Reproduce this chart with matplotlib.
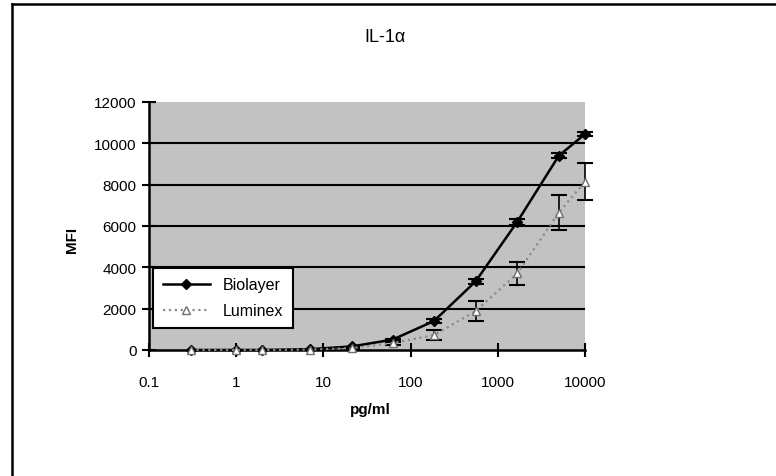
import matplotlib
matplotlib.use("Agg")
import matplotlib.pyplot as plt
from matplotlib.lines import Line2D

plt.rcParams['font.family'] = ['Liberation Sans', 'DejaVu Sans']

# Concentrations (pg/ml)
conc = [0.3, 1, 2, 7, 21, 62, 185, 556, 1667, 5000, 10000]

# Mean fluorescence intensity
biolayer = [0, 0, 0, 40, 170, 500, 1400, 3320, 6200, 9400, 10450]
biolayer_err = [0, 0, 0, 0, 0, 40, 80, 120, 150, 120, 100]

luminex = [0, 0, 0, 20, 90, 330, 720, 1880, 3700, 6650, 8150]
luminex_err = [0, 0, 0, 0, 30, 80, 250, 480, 580, 850, 900]

yticks = [0, 2000, 4000, 6000, 8000, 10000, 12000]
xticks = [0.1, 1, 10, 100, 1000, 10000]
xticklabels = ["0.1", "1", "10", "100", "1000", "10000"]


def with_error(x, y, e):
    keep = [i for i, v in enumerate(e) if v > 0]
    return [x[i] for i in keep], [y[i] for i in keep], [e[i] for i in keep]


fig = plt.figure(figsize=(7.76, 4.77), dpi=100)
ax = fig.add_axes([0.192, 0.2642, 0.562, 0.520])

ax.set_facecolor('#c2c2c2')
ax.set_xscale('log')
ax.set_xlim(0.1, 10000)
ax.set_ylim(0, 12000)

for y in yticks[1:-1]:
    ax.axhline(y, color='black', lw=1.5, zorder=1)

bx, by, be = with_error(conc, biolayer, biolayer_err)
ax.errorbar(bx, by, yerr=be, fmt='none', ecolor='black',
            elinewidth=1.2, capsize=6, capthick=1.5, zorder=3, clip_on=False)
ax.plot(conc, biolayer, color='black', lw=1.8, marker='D', ms=5,
        mfc='black', mec='black', zorder=4, label='Biolayer', clip_on=False)

lx, ly, le = with_error(conc, luminex, luminex_err)
ax.errorbar(lx, ly, yerr=le, fmt='none', ecolor='black',
            elinewidth=1.2, capsize=6, capthick=1.5, zorder=5, clip_on=False)
ax.plot(conc, luminex, color='#8a8a8a', lw=1.6, ls=':', marker='^', ms=6,
        mfc='white', mec='#707070', mew=1.0, zorder=6, label='Luminex',
        clip_on=False)

ax.set_xticks(xticks)
ax.set_xticklabels(xticklabels)
ax.xaxis.set_minor_locator(matplotlib.ticker.NullLocator())
ax.set_yticks(yticks)
ax.set_yticklabels([str(v) for v in yticks])
ax.tick_params(axis='x', direction='inout', length=10, width=1.5, pad=13,
               labelsize=11)
ax.tick_params(axis='y', direction='inout', length=10, width=1.5, pad=4,
               labelsize=11)

for side in ['top', 'right']:
    ax.spines[side].set_visible(False)
ax.spines['left'].set_linewidth(1.8)
ax.spines['bottom'].set_linewidth(1.8)

handles, labels = ax.get_legend_handles_labels()
order = [labels.index('Biolayer'), labels.index('Luminex')]
leg = ax.legend([handles[i] for i in order], [labels[i] for i in order],
                loc='lower left', bbox_to_anchor=(0.009, 0.089),
                fontsize=11.5, frameon=True, fancybox=False, framealpha=1,
                edgecolor='black', handlelength=3, borderpad=0.6,
                labelspacing=0.7, borderaxespad=0)
leg.get_frame().set_linewidth(1.5)
leg.set_zorder(10)

fig.text(385 / 776, 1 - 38 / 477, 'IL-1α', ha='center', va='center',
         fontsize=13)
fig.text(72 / 776, 1 - 240 / 477, 'MFI', ha='center', va='center',
         rotation=90, fontsize=11, fontweight='bold')
fig.text(370 / 776, 1 - 410 / 477, 'pg/ml', ha='center', va='center',
         fontsize=11, fontweight='bold')

# Outer frame: top and left edges
x0, y0 = 12 / 776, 1 - 5 / 477
fig.add_artist(Line2D([x0, 1], [y0, y0], color='black', lw=1.8,
                      transform=fig.transFigure))
fig.add_artist(Line2D([x0, x0], [y0, 0], color='black', lw=1.8,
                      transform=fig.transFigure))

fig.savefig('out.png', dpi=100)
